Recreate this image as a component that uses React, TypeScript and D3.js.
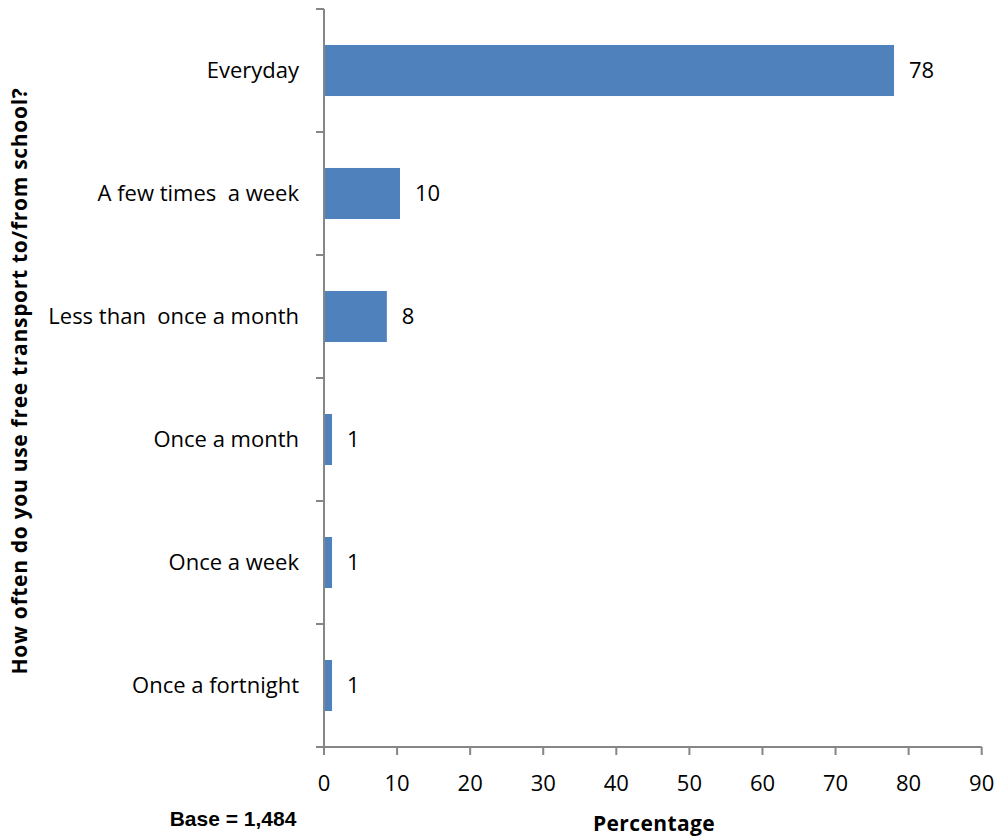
import React from "react";
import * as d3 from "d3";

const categories = [
  "Everyday",
  "A few times  a week",
  "Less than  once a month",
  "Once a month",
  "Once a week",
  "Once a fortnight",
];
const values = [78, 10.4, 8.6, 1.1, 1.1, 1.1];
const valueLabels = ["78", "10", "8", "1", "1", "1"];
const xTicks = [0, 10, 20, 30, 40, 50, 60, 70, 80, 90];

const width = 998;
const height = 838;
const left = 324;
const right = 981.7;
const top = 9;
const bottom = 747;
const font = "'Open Sans', sans-serif";

export default function App() {
  const x = d3.scaleLinear().domain([0, 90]).range([left, right]);
  const y = d3
    .scaleBand<string>()
    .domain(categories)
    .range([top, bottom])
    .paddingInner(0.585)
    .paddingOuter(0.2925);
  const step = y.step();
  const bandEdges = d3.range(categories.length + 1).map((i) => top + i * step);

  return (
    <svg
      width={width}
      height={height}
      style={{ position: "absolute", left: 0, top: 0, background: "#fff" }}
    >
      {categories.map((c, i) => (
        <g key={c}>
          <rect
            x={x(0)}
            y={y(c)}
            width={x(values[i]) - x(0)}
            height={y.bandwidth()}
            fill="#4f81bd"
          />
          <text
            x={x(values[i]) + 15}
            y={(y(c) ?? 0) + y.bandwidth() / 2}
            dy="0.36em"
            fontFamily={font}
            fontSize={22}
            fill="#000"
          >
            {valueLabels[i]}
          </text>
          <text
            x={299}
            y={(y(c) ?? 0) + y.bandwidth() / 2}
            dy="0.36em"
            textAnchor="end"
            fontFamily={font}
            fontSize={22}
            fill="#000"
            style={{ whiteSpace: "pre" }}
          >
            {c}
          </text>
        </g>
      ))}

      {/* y axis */}
      <line x1={left} x2={left} y1={top} y2={bottom} stroke="#868686" strokeWidth={2} />
      {bandEdges.map((e, i) => (
        <line key={i} x1={left - 8} x2={left} y1={e} y2={e} stroke="#868686" strokeWidth={2} />
      ))}

      {/* x axis */}
      <line x1={left - 8} x2={right} y1={bottom} y2={bottom} stroke="#868686" strokeWidth={2} />
      {xTicks.map((t) => (
        <g key={t}>
          <line x1={x(t)} x2={x(t)} y1={bottom} y2={bottom + 8} stroke="#868686" strokeWidth={2} />
          <text
            x={x(t)}
            y={783}
            dy="0.36em"
            textAnchor="middle"
            fontFamily={font}
            fontSize={22}
            fill="#000"
          >
            {t}
          </text>
        </g>
      ))}

      <text
        x={654}
        y={823}
        dy="0.36em"
        textAnchor="middle"
        fontFamily={font}
        fontWeight="bold"
        fontSize={21}
        letterSpacing={0.4}
        fill="#000"
      >
        Percentage
      </text>
      <text
        x={233}
        y={818}
        dy="0.36em"
        textAnchor="middle"
        fontFamily="'Liberation Sans', Arial, sans-serif"
        fontWeight="bold"
        fontSize={21}
        fill="#000"
      >
        Base = 1,484
      </text>
      <text
        transform={`translate(19, ${(top + bottom) / 2 + 3}) rotate(-90)`}
        dy="0.36em"
        textAnchor="middle"
        fontFamily={font}
        fontWeight="bold"
        fontSize={21}
        letterSpacing={0.7}
        fill="#000"
      >
        How often do  you use  free transport to/from school?
      </text>
    </svg>
  );
}
